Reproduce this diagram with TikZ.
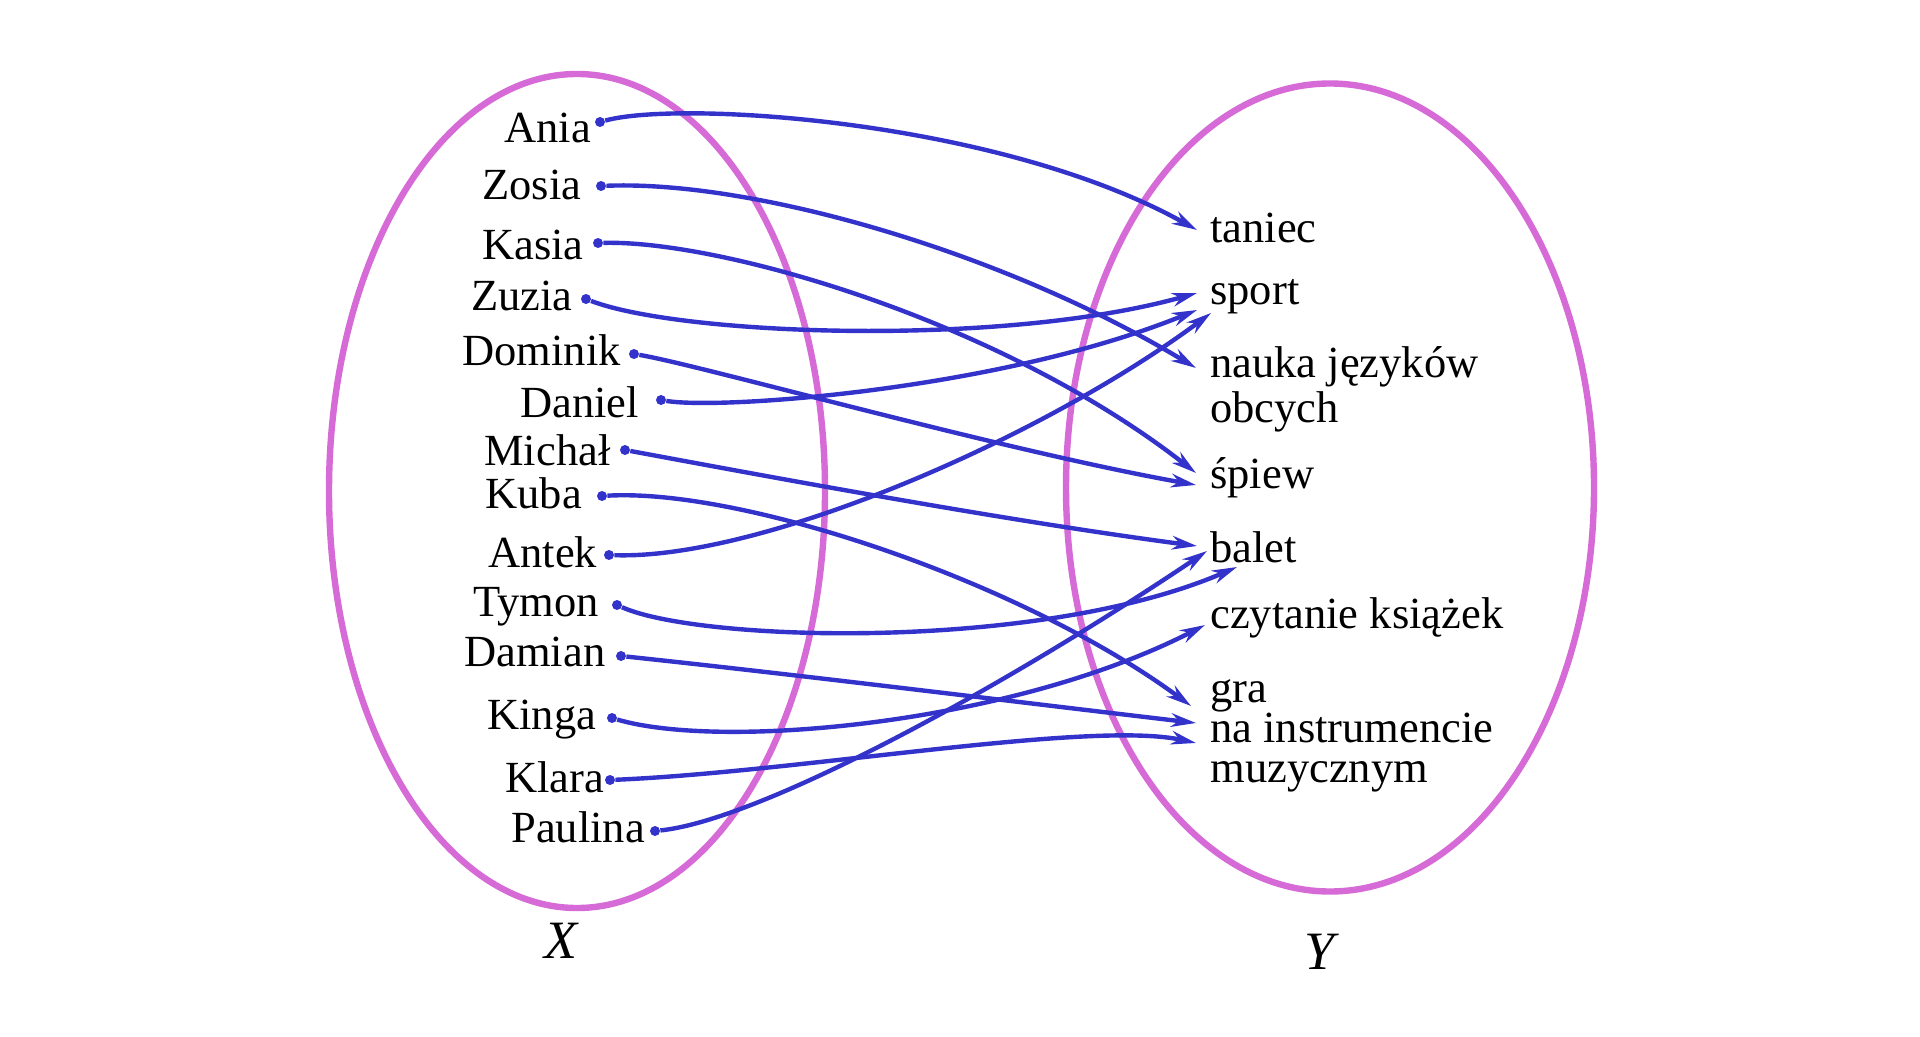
\documentclass[tikz,border=0pt]{standalone}
\usepackage{fontspec}
\setmainfont{Liberation Serif}
\usetikzlibrary{arrows.meta}
\definecolor{setpink}{RGB}{214,106,214}
\definecolor{mapblue}{RGB}{51,51,204}
\begin{document}
\begin{tikzpicture}[x=0.5pt,y=-0.5pt,
  setline/.style={draw=setpink, line width=3.2pt},
  maparrow/.style={draw=mapblue, line width=2.2pt, -{Stealth[length=12.5pt,width=6.8pt,inset=4pt]}},
  dot/.style={circle, fill=mapblue, inner sep=0pt, minimum size=5pt},
  lbl/.style={font=\fontsize{22.25}{26}\selectfont, inner sep=0pt, anchor=base west},
  setname/.style={font=\fontsize{27}{32}\selectfont\itshape, inner sep=0pt}]
\useasboundingbox (0,0) rectangle (1920,1037);
% sets
\draw[setline] (577,491) ellipse [x radius=124pt, y radius=208.5pt];
\draw[setline] (1330,487.5) ellipse [x radius=132pt, y radius=202pt];
\node[setname] (lx) at (561,941) {X};
\node[setname] (ly) at (1319,952) {Y};
% domain names
\node[lbl] (n-ania) at (504,143) {Ania};
\node[lbl] (n-zosia) at (482,200) {Zosia};
\node[lbl] (n-kasia) at (482,260) {Kasia};
\node[lbl] (n-zuzia) at (471,311) {Zuzia};
\node[lbl] (n-dominik) at (462,365) {Dominik};
\node[lbl] (n-daniel) at (520,417) {Daniel};
\node[lbl] (n-michal) at (484,465) {Michał};
\node[lbl] (n-kuba) at (485,508) {Kuba};
\node[lbl] (n-antek) at (488,567) {Antek};
\node[lbl] (n-tymon) at (473,616) {Tymon};
\node[lbl] (n-damian) at (464,666) {Damian};
\node[lbl] (n-kinga) at (487,729) {Kinga};
\node[lbl] (n-klara) at (505,792) {Klara};
\node[lbl] (n-paulina) at (511,842) {Paulina};
% dots
\node[dot] (d-ania) at (600,122) {};
\node[dot] (d-zosia) at (601,186) {};
\node[dot] (d-kasia) at (598,243) {};
\node[dot] (d-zuzia) at (586,299) {};
\node[dot] (d-dominik) at (634,354) {};
\node[dot] (d-daniel) at (661,400) {};
\node[dot] (d-michal) at (625,450) {};
\node[dot] (d-kuba) at (602,496) {};
\node[dot] (d-antek) at (609,555) {};
\node[dot] (d-tymon) at (617,605) {};
\node[dot] (d-damian) at (621,656) {};
\node[dot] (d-kinga) at (612,718) {};
\node[dot] (d-klara) at (610,780) {};
\node[dot] (d-paulina) at (655,831) {};
% codomain labels
\node[lbl] (y-taniec) at (1210,243) {taniec};
\node[lbl] (y-sport) at (1210,305) {sport};
\node[lbl] (y-nauka) at (1210,378) {nauka języków};
\node[lbl] (y-nauka2) at (1210,422) {obcych};
\node[lbl] (y-spiew) at (1210,488) {śpiew};
\node[lbl] (y-balet) at (1210,562) {balet};
\node[lbl] (y-czyt) at (1210,628) {czytanie książek};
\node[lbl, text depth=0pt] (y-gra) at (1210,702) {gra};
\node[lbl] (y-gra2) at (1210,742) {na instrumencie};
\node[lbl] (y-gra3) at (1210,782) {muzycznym};
% arrow targets
\coordinate (t-taniec) at (1197,230);
\coordinate (t-sport1) at (1197,293);
\coordinate (t-sport2) at (1197,310);
\coordinate (t-sport3) at (1211,313);
\coordinate (t-nauka) at (1196,368);
\coordinate (t-spiew1) at (1196,473);
\coordinate (t-spiew2) at (1196,485);
\coordinate (t-balet1) at (1197,546);
\coordinate (t-balet2) at (1207,551);
\coordinate (t-balet3) at (1237,567);
\coordinate (t-czyt) at (1205,625);
\coordinate (t-gra1) at (1191,706);
\coordinate (t-gra2) at (1196,723);
\coordinate (t-gra3) at (1196,743);
% mapping
\draw[maparrow] (d-ania) .. controls (680,100) and (1000,120) .. (t-taniec);
\draw[maparrow] (d-zosia) .. controls (750,180) and (1000,250) .. (t-nauka);
\draw[maparrow] (d-kasia) .. controls (720,240) and (1000,320) .. (t-spiew1);
\draw[maparrow] (d-zuzia) .. controls (680,335) and (1000,348) .. (t-sport1);
\draw[maparrow] (d-dominik) .. controls (700,365) and (1000,450) .. (t-spiew2);
\draw[maparrow] (d-daniel) .. controls (720,410) and (1000,390) .. (t-sport2);
\draw[maparrow] (d-michal) .. controls (760,475) and (1000,520) .. (t-balet1);
\draw[maparrow] (d-kuba) .. controls (740,488) and (1020,580) .. (t-gra1);
\draw[maparrow] (d-antek) .. controls (760,560) and (1040,440) .. (t-sport3);
\draw[maparrow] (d-tymon) .. controls (700,642) and (1040,652) .. (t-balet3);
\draw[maparrow] (d-damian) .. controls (800,675) and (1000,700) .. (t-gra2);
\draw[maparrow] (d-kinga) .. controls (720,750) and (1010,725) .. (t-czyt);
\draw[maparrow] (d-klara) .. controls (800,772) and (1090,720) .. (t-gra3);
\draw[maparrow] (d-paulina) .. controls (760,820) and (1000,690) .. (t-balet2);
\end{tikzpicture}
\end{document}
